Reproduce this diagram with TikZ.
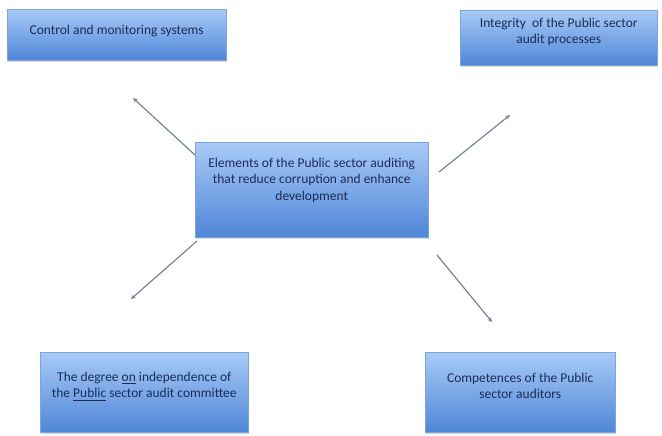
\documentclass[tikz,border=0pt]{standalone}
\usepackage{fontspec}
\setmainfont{Carlito}
\usetikzlibrary{arrows.meta,shadows}
\definecolor{Navy}{HTML}{1C2C58}
\definecolor{SkyTop}{HTML}{A8CAF6}
\definecolor{SkyBot}{HTML}{4F86D8}
\definecolor{Edge}{HTML}{7FA4DA}
\definecolor{Slate}{HTML}{74819A}
\newlength\px
\setlength\px{0.03cm}
% box body: width, height, top gap, text
\newcommand\panelbody[4]{\parbox[c][#2\px][t]{#1\px}{\centering\vspace*{#3\px}#4\par}}
\tikzset{
 panel/.style={draw=Edge,top color=SkyTop,bottom color=SkyBot,inner sep=0pt,anchor=north west,font=\fontsize{11.5}{14}\selectfont,text=Navy,drop shadow={shadow xshift=1pt,shadow yshift=-1.2pt,opacity=.3}},
 arr/.style={-{Stealth[length=4pt,width=3.6pt]},line width=1pt,draw=Slate}
}

\begin{document}
\begin{tikzpicture}[x=0.03cm,y=-0.03cm]
\useasboundingbox (0,0) rectangle (662,435);
% centre box
\node[panel] (elem) at (195,142) {\panelbody{233}{95}{16}{Elements of the Public sector auditing\\that reduce corruption and enhance\\development}};
% outer boxes
\node[panel] (ctrl) at (7,9) {\panelbody{219}{51}{16}{Control and monitoring systems}};
\node[panel] (integ) at (460,10) {\panelbody{197}{55}{8}{Integrity\ \ of the Public sector\\audit processes}};
\node[panel] (indep) at (40,352) {\panelbody{208}{80}{20}{The degree \underline{on} independence of\\the \underline{Public} sector audit committee}};
\node[panel] (compet) at (425,352) {\panelbody{190}{80}{21}{Competences of the Public\\sector auditors}};
% arrow ends
\coordinate (ctrlTail) at (195,155);
\coordinate (ctrlTip) at (133,98);
\coordinate (integTail) at (439,172);
\coordinate (integTip) at (510,115);
\coordinate (indepTail) at (197,241);
\coordinate (indepTip) at (131,299);
\coordinate (competTail) at (437,255);
\coordinate (competTip) at (492,322);
\draw[arr] (ctrlTail) -- (ctrlTip);
\draw[arr] (integTail) -- (integTip);
\draw[arr] (indepTail) -- (indepTip);
\draw[arr] (competTail) -- (competTip);
\end{tikzpicture}
\end{document}
